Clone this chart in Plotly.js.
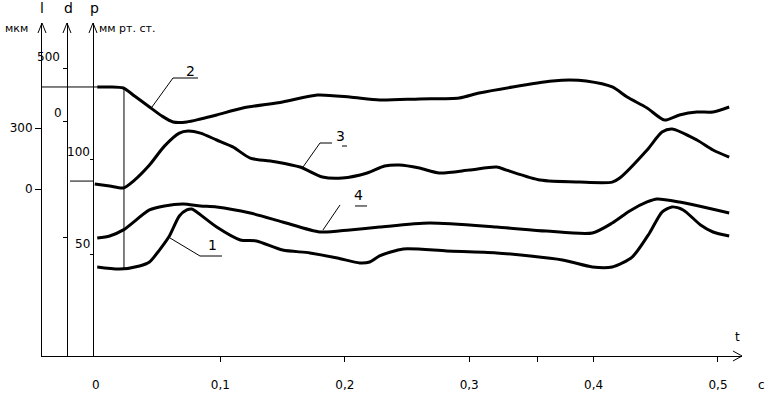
<!DOCTYPE html>
<html><head><meta charset="utf-8">
<script src="https://cdn.plot.ly/plotly-3.0.1.min.js"></script>
<style>html,body{margin:0;padding:0;background:#fff}#chart{width:766px;height:397px}</style>
</head><body><div id="chart"></div>
<script>
// time, s
const t2 = [0.001,0.011,0.022,0.031,0.043,0.053,0.062,0.073,0.084,0.097,0.118,0.150,0.178,0.204,0.228,0.260,0.292,0.308,0.335,0.367,0.381,0.394,0.415,0.427,0.443,0.457,0.469,0.483,0.496,0.509];
// curve 2 (d axis, мкм)
const d2 = [321,321,311,236,132,47,-9,-9,19,57,123,179,245,226,198,208,217,264,321,377,387,377,321,226,123,9,57,85,85,132];

const t3 = [-0.001,0.011,0.022,0.031,0.043,0.055,0.067,0.074,0.084,0.097,0.110,0.124,0.145,0.164,0.182,0.198,0.218,0.232,0.244,0.260,0.276,0.300,0.322,0.330,0.357,0.389,0.415,0.421,0.443,0.455,0.463,0.483,0.496,0.509];
// curve 3 (l axis, мкм)
const l3 = [25,15,5,44,118,211,275,285,275,241,207,152,133,108,59,54,79,113,118,103,79,93,108,93,44,34,34,54,192,280,295,241,192,157];

const t4 = [0.001,0.011,0.022,0.043,0.055,0.070,0.084,0.097,0.124,0.150,0.180,0.204,0.228,0.268,0.322,0.362,0.399,0.415,0.429,0.443,0.451,0.469,0.509];
// curve 4 (p axis, мм рт. ст.)
const p4 = [58.9,60.0,63.2,73.7,75.8,76.8,75.8,75.3,72.1,67.4,62.1,63.2,64.7,66.8,64.7,62.6,61.6,66.8,73.2,77.9,79.5,77.9,72.1];

const t1 = [0.001,0.019,0.035,0.043,0.051,0.059,0.067,0.073,0.077,0.081,0.097,0.116,0.129,0.150,0.172,0.194,0.212,0.220,0.228,0.247,0.282,0.322,0.375,0.399,0.415,0.431,0.445,0.455,0.463,0.472,0.486,0.496,0.509];
// curve 1 (p axis, мм рт. ст.)
const p1 = [43.7,42.6,44.2,46.3,52.6,60.0,70.5,73.7,74.2,72.6,64.7,57.9,57.4,52.6,51.1,48.4,45.8,46.3,49.5,53.2,52.1,51.1,47.4,43.7,43.7,48.9,61.6,72.6,75.3,73.7,65.8,62.1,60.0];

const xTickVals = [0.1,0.2,0.3,0.355,0.4,0.5];
const xTickText = ['0,1','0,2','0,3','','0,4','0,5'];
const lTicks = [0,300];
const dTicks = [500,0,-1100];
const pTicks = [100,50];

const FONT = 'DejaVu Sans, Liberation Sans, sans-serif';
const L = 42, R = 742, T = 23, B = 356;
function pp(xp, yp){ return ((xp-L)/(R-L)).toFixed(4)+','+((B-yp)/(B-T)).toFixed(4); }
function px(xp){ return (xp-L)/(R-L); }
function py(yp){ return (B-yp)/(B-T); }

const line = {color:'#000', width:3, shape:'spline', smoothing:0.7};
const traces = [
  {x:t2, y:d2, yaxis:'y2', mode:'lines', line:line},
  {x:t3, y:l3, yaxis:'y', mode:'lines', line:line},
  {x:t4, y:p4, yaxis:'y3', mode:'lines', line:line},
  {x:t1, y:p1, yaxis:'y3', mode:'lines', line:line}
];

const thin = {color:'#000', width:1};
const shapes = [];
function path(d){ shapes.push({type:'path', xref:'paper', yref:'paper', path:d, line:thin}); }
[42,67,93].forEach(function(a){ path('M'+pp(a-4,33)+' L'+pp(a,23)+' L'+pp(a+4,33)); });
path('M'+pp(733,351)+' L'+pp(742,356)+' L'+pp(733,361));
// leaders
path('M'+pp(152,107)+' L'+pp(173,78)+' L'+pp(198,78));
path('M'+pp(303,167)+' L'+pp(320,143)+' L'+pp(332,143));
path('M'+pp(342,146)+' L'+pp(347,146));
path('M'+pp(323,230)+' L'+pp(340,205));
path('M'+pp(355,206)+' L'+pp(367,206));
path('M'+pp(170,238)+' L'+pp(200,256)+' L'+pp(222,256));
// reference lines
const xr = [-0.0434, 0.5193];
shapes.push({type:'line', xref:'x', yref:'y2', x0:xr[0], x1:t2[0], y0:d2[0], y1:d2[0], line:thin});
shapes.push({type:'line', xref:'x', yref:'y2', x0:0.0225, x1:0.0225, y0:d2[0], y1:-1406, line:thin});
shapes.push({type:'line', xref:'paper', yref:'y', x0:px(70), x1:px(93), y0:39, y1:39, line:thin});

const annotations = [];
function txt(s, xp, yp, size, anchor){
  annotations.push({text:s, xref:'paper', yref:'paper', x:px(xp), y:py(yp), showarrow:false,
    xanchor:anchor||'center', yanchor:'middle', font:{family:FONT, size:size||12, color:'#000'}});
}
txt('l',42,8,14); txt('d',68,8,14); txt('p',94,8,14);
txt('мкм',16,28,11); txt('мм рт. ст.',97,28,11,'left');
txt('t',737,337,12); txt('c',761,385,12);
txt('0',96,385,12);
function alab(s, yref, v, xp, shift){
  annotations.push({text:s, xref:'paper', yref:yref, x:px(xp), y:v, yshift:shift, showarrow:false,
    xanchor:'right', yanchor:'middle', font:{family:FONT,size:12,color:'#000'}});
}
alab(String(dTicks[0]),'y2',dTicks[0],62,11);
alab(String(dTicks[1]),'y2',dTicks[1],64,8);
alab(String(pTicks[0]),'y3',pTicks[0],92,8);
alab(String(pTicks[1]),'y3',pTicks[1],92,11);
txt('1',212,245,14); txt('2',190,71,14); txt('3',340,136,14); txt('4',358,195,14);

const layout = {
  width:766, height:397, margin:{l:L, r:766-R, t:T, b:397-B},
  paper_bgcolor:'#fff', plot_bgcolor:'#fff', showlegend:false,
  font:{family:FONT, size:12, color:'#000'},
  xaxis:{range:xr, showline:true, linecolor:'#000', linewidth:1, ticks:'outside', ticklen:5, tickcolor:'#000',
    tickvals:xTickVals, ticktext:xTickText, showgrid:false, zeroline:false, ticklabelstandoff:13,
    tickfont:{family:FONT,size:12,color:'#000'}},
  yaxis:{range:[-821.3,816.4], showline:true, linecolor:'#000', linewidth:1, ticks:'outside', ticklen:6, tickcolor:'#000',
    tickvals:lTicks, showgrid:false, zeroline:false, tickfont:{family:FONT,size:12,color:'#000'}},
  yaxis2:{range:[-2217,924.5], overlaying:'y', anchor:'free', position:px(67), side:'left', showline:true, linecolor:'#000',
    ticks:'outside', ticklen:4, tickcolor:'#000', tickvals:dTicks, showticklabels:false, showgrid:false, zeroline:false},
  yaxis3:{range:[-3.16,172.1], overlaying:'y', anchor:'free', position:px(93), side:'left', showline:true, linecolor:'#000',
    ticks:'outside', ticklen:3, tickcolor:'#000', tickvals:pTicks, showticklabels:false, showgrid:false, zeroline:false},
  shapes:shapes, annotations:annotations
};
Plotly.newPlot('chart', traces, layout, {staticPlot:true, displayModeBar:false});
</script></body></html>
